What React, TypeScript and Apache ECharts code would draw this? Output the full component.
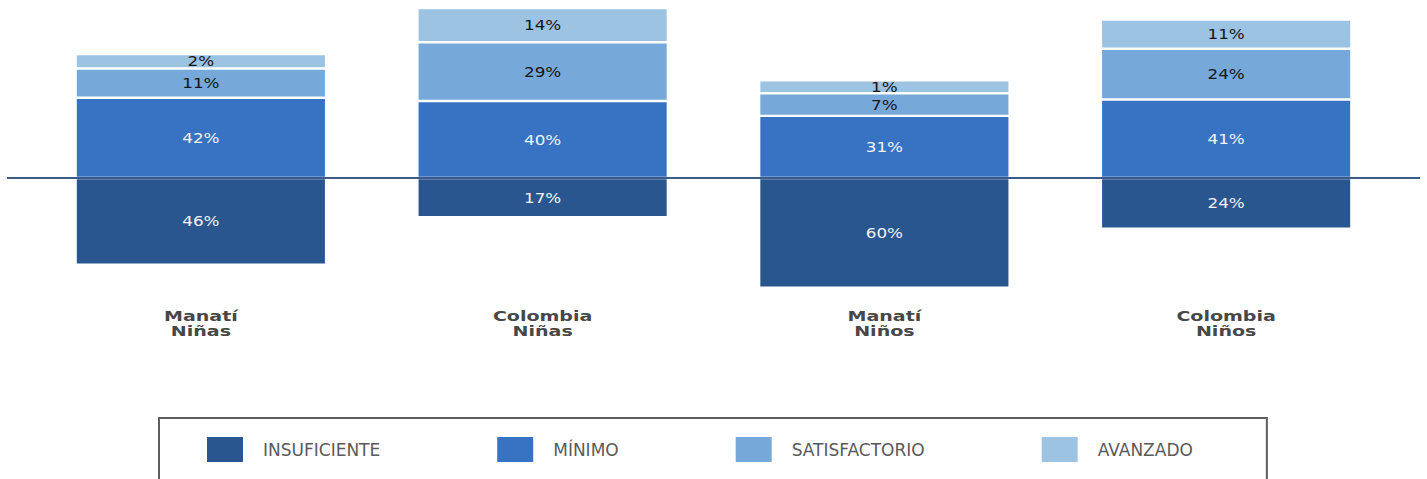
import React, { useEffect, useRef } from "react";
import * as echarts from "echarts";

// ---- data ----
const categories = ["Manatí\nNiñas", "Colombia\nNiñas", "Manatí\nNiños", "Colombia\nNiños"];
const levels = ["INSUFICIENTE", "MÍNIMO", "SATISFACTORIO", "AVANZADO"];
const insuficiente = [46, 17, 60, 24];
const minimo = [42, 40, 31, 41];
const satisfactorio = [11, 29, 7, 24];
const avanzado = [2, 14, 1, 11];
const seriesValues = [insuficiente, minimo, satisfactorio, avanzado];

// ---- style ----
const colors = ["#2a5690", "#3873c3", "#76a9d9", "#9dc3e3"];
const labelColors = ["#f2f2f2", "#f2f2f2", "#151515", "#151515"];
const SEGMENT_PAD = 6.8; // visual padding per segment (axis units)
const BAR_RATIO = 0.726;
const GAP = 1.2;

function makeRender(L: number) {
  return (params: any, api: any) => {
    const i = api.value(0);
    const v = api.value(1);
    let start = 0;
    let end = 0;
    if (L === 0) {
      end = -(v + SEGMENT_PAD);
    } else {
      for (let k = 1; k < L; k++) start += seriesValues[k][i] + SEGMENT_PAD;
      end = start + v + SEGMENT_PAD;
    }
    const p0 = api.coord([i, start]);
    const p1 = api.coord([i, end]);
    const band = api.size([1, 0])[0];
    const w = band * BAR_RATIO;
    const yTop = Math.min(p0[1], p1[1]) + GAP;
    const yBot = Math.max(p0[1], p1[1]) - GAP;
    const children: any[] = [
      {
        type: "rect",
        shape: { x: p0[0] - w / 2, y: yTop, width: w, height: yBot - yTop },
        style: { fill: api.visual("color") },
      },
      {
        type: "text",
        x: p0[0],
        y: (yTop + yBot) / 2 + 0.5,
        scaleX: 1.2,
        style: {
          text: v + "%",
          fill: labelColors[L],
          fontSize: 14,
          fontFamily: "DejaVu Sans",
          align: "center",
          verticalAlign: "middle",
        },
      },
    ];
    if (L === 0) {
      const cs = params.coordSys;
      children.push({
        type: "text",
        x: p0[0],
        y: cs.y + cs.height + 7,
        scaleX: 1.36,
        style: {
          text: categories[i],
          fill: "#474747",
          fontSize: 14,
          fontWeight: "bold",
          lineHeight: 15,
          fontFamily: "DejaVu Sans",
          align: "center",
          verticalAlign: "top",
        },
      });
    }
    return { type: "group", children };
  };
}

export default function App() {
  const ref = useRef<HTMLDivElement>(null);
  useEffect(() => {
    if (!ref.current) return;
    const chart = echarts.init(ref.current, undefined, { renderer: "svg" });
    const option: any = {
      animation: false,
      backgroundColor: "#ffffff",
      grid: { left: 30, right: 30, top: 5.4, height: 295.9 },
      xAxis: {
        type: "category",
        data: categories,
        axisLine: { show: false },
        axisTick: { show: false },
        axisLabel: { show: false },
        splitLine: { show: false },
      },
      yAxis: {
        type: "value",
        min: -75,
        max: 105,
        show: false,
        splitLine: { show: false },
      },
      legend: {
        data: levels,
        left: 159,
        top: 418,
        orient: "horizontal",
        icon: "rect",
        itemWidth: 36,
        itemHeight: 25,
        itemGap: 117,
        padding: [19, 74, 30, 48],
        borderColor: "#5e5e5e",
        borderWidth: 2,
        selectedMode: false,
        textStyle: {
          fontFamily: "DejaVu Sans",
          fontSize: 17,
          color: "#5a5a5a",
          padding: [0, 0, 0, 15],
        },
      },
      series: levels.map((name, L) => ({
        type: "custom",
        name,
        renderItem: makeRender(L),
        itemStyle: { color: colors[L] },
        encode: { x: 0, y: 1 },
        data: seriesValues[L].map((v, i) => [i, v]),
        z: 3,
      })),
    };
    chart.setOption(option);
    const y0 = chart.convertToPixel({ yAxisIndex: 0 }, 0) as number;
    chart.setOption({
      graphic: [
        {
          type: "line",
          z: 1,
          shape: { x1: 7, y1: y0, x2: 1420, y2: y0 },
          style: { stroke: "#3b5b8a", lineWidth: 2 },
        },
      ],
    });
    return () => chart.dispose();
  }, []);
  return (
    <div
      ref={ref}
      style={{ position: "absolute", left: 0, top: 0, width: 1427, height: 479 }}
    />
  );
}
